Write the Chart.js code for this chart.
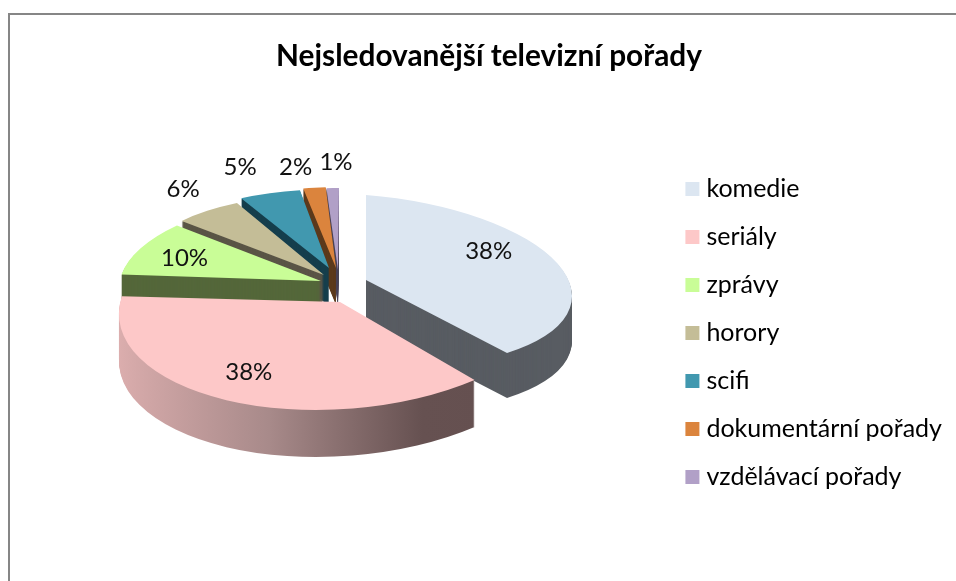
<!DOCTYPE html>
<html><head><meta charset="utf-8">
<script src="https://cdn.jsdelivr.net/npm/chart.js@4"></script>
<style>
html,body{margin:0;padding:0;background:#fff;width:956px;height:581px;overflow:hidden}
#frame{position:absolute;left:8px;top:13px;width:1000px;height:700px;border:2px solid #868686;box-sizing:border-box}
canvas{position:absolute;left:0;top:0}
</style></head><body>
<div id="frame"></div>
<canvas id="c" width="956" height="581"></canvas>
<script>
const titleText = 'Nejsledovanější televizní pořady';
const categories = ['komedie','seriály','zprávy','horory','scifi','dokumentární pořady','vzdělávací pořady'];
const shares = [38,38,10,6,5,2,1];
const topColors = ['#dce6f1','#fdc8c8','#c9fd97','#c4bd97','#4198af','#db843d','#b1a0c7'];
const wallColors = ['#585c62',null,'#54673a','#5a5546','#153e4c','#5c3a1c','#4b4458'];

// Oblique 3-D view: how each wedge's unit circle is projected on the page.
const view3d = [
  {o:[366,280],u:[206,16],v:[0,-85],depth:45},
  {o:[340,302],u:[220,-1],v:[22,-108],depth:47},
  {o:[321,281],u:[201,1],v:[17,-86],depth:42},
  {o:[324,275],u:[188,4],v:[4,-80],depth:40},
  {o:[329,268],u:[197,1],v:[8,-79],depth:38},
  {o:[336,268],u:[180,0],v:[1,-81],depth:37},
  {o:[338,270],u:[200,0],v:[1,-82],depth:36}
];
const paintOrder = [6,5,4,3,2,0,1];
const labelFrac = [.63,.75,.75,1.25,1.4,1.27,1.32];
const labelNudge = [[2,-18],[-6,-3],[-1,2],[5,-5],[-6,4],[-13,1],[5,0]];
const labelFont = '24px Lato';

function paintArc(ctx, arc, color){
  const shim = Object.create(arc);
  shim.options = {backgroundColor:color,borderColor:color,borderWidth:0,offset:0,spacing:0,
    borderAlign:'center',circular:true,borderRadius:0,borderJoinStyle:'round',borderDash:[],borderDashOffset:0};
  shim.draw(ctx);
}
const pie3d = {
  id:'pie3d',
  beforeDatasetDraw(chart){
    const ctx = chart.ctx, arcs = chart.getDatasetMeta(0).data;
    paintOrder.forEach(i=>{
      const a = arcs[i], p = view3d[i], R = a.outerRadius;
      let wall = wallColors[i];
      const place = dy=>{
        ctx.setTransform(p.u[0]/R,p.u[1]/R,-p.v[0]/R,-p.v[1]/R,p.o[0],p.o[1]+dy);
        ctx.translate(-a.x,-a.y);
      };
      ctx.save();
      if(!wall){
        wall = ctx.createLinearGradient(a.x-R,0,a.x+0.72*R,0);
        wall.addColorStop(0,'#dcaeae');
        wall.addColorStop(.45,'#a88a8a');
        wall.addColorStop(.85,'#665151');
        wall.addColorStop(1,'#655050');
      }
      for(let d=p.depth;d>0;d--){ place(d); paintArc(ctx,a,wall); }
      place(0); paintArc(ctx,a,topColors[i]);
      ctx.restore();
    });
    return false;
  },
  afterDatasetsDraw(chart){
    const ctx = chart.ctx, arcs = chart.getDatasetMeta(0).data;
    const total = shares.reduce((s,v)=>s+v,0);
    ctx.save();
    ctx.setTransform(1,0,0,1,0,0);
    ctx.font = labelFont; ctx.fillStyle='#111'; ctx.textAlign='center'; ctx.textBaseline='middle';
    arcs.forEach((a,i)=>{
      const p = view3d[i], m=(a.startAngle+a.endAngle)/2, c=Math.cos(m), s=Math.sin(m), f=labelFrac[i];
      const x = p.o[0]+f*(c*p.u[0]-s*p.v[0])+labelNudge[i][0];
      const y = p.o[1]+f*(c*p.u[1]-s*p.v[1])+labelNudge[i][1];
      ctx.fillText(Math.round(shares[i]/total*100)+'%',x,y);
    });
    ctx.restore();
  }
};
new Chart(document.getElementById('c'),{
  type:'pie',
  plugins:[pie3d],
  data:{labels:categories,datasets:[{data:shares,backgroundColor:topColors,borderWidth:0}]},
  options:{
    responsive:false,animation:false,
    layout:{padding:{left:26,right:4,top:0,bottom:0}},
    plugins:{
      title:{display:true,text:titleText,color:'#000',font:{family:'Lato',size:29.8,weight:'bold'},padding:{top:39,bottom:10}},
      tooltip:{enabled:false},
      legend:{position:'right',fullSize:false,labels:{
        color:'#222',font:{family:'Lato',size:25},padding:23,boxWidth:3,boxHeight:3,
        generateLabels:()=>categories.map((t,i)=>({text:t,fillStyle:topColors[i],strokeStyle:topColors[i],lineWidth:11,lineJoin:'miter',index:i,hidden:false}))
      }}
    }
  }
});
</script></body></html>
